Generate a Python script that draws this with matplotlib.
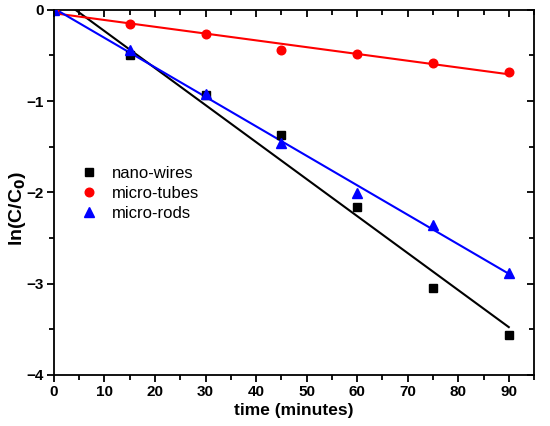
import numpy as np
from matplotlib import pyplot as plt
from matplotlib.ticker import MultipleLocator

plt.rcParams['font.family'] = ['Liberation Sans', 'DejaVu Sans']

# Data
time = [0, 15, 30, 45, 60, 75, 90]
nano_wires = [0, -0.49, -0.93, -1.374, -2.16, -3.05, -3.56]
micro_tubes = [0, -0.153, -0.266, -0.44, -0.48, -0.58, -0.685]
micro_rods = [0, -0.44, -0.92, -1.457, -2.01, -2.36, -2.88]

series = [
    ('nano-wires', nano_wires, 'black', 's', 5.4),
    ('micro-tubes', micro_tubes, 'red', 'o', 6.2),
    ('micro-rods', micro_rods, 'blue', '^', 6.8),
]

rect = [0.098, 0.12, 0.873, 0.857]
fig = plt.figure(dpi=100, figsize=(5.5, 4.26))
ax = fig.add_axes(rect)

t = np.array(time)
for name, vals, color, marker, ms in series:
    # linear fit line
    k, b = np.polyfit(t, vals, 1)
    xs = np.array([0, 90])
    ax.plot(xs, k * xs + b, color=color, lw=1.5, zorder=2)
    ax.plot(time, vals, ls='none', marker=marker, ms=ms, color=color,
            label=name, zorder=3)


def set_ticks(a):
    a.set_xlim(0, 95)
    a.set_ylim(-4, 0)
    a.xaxis.set_major_locator(MultipleLocator(10))
    a.xaxis.set_minor_locator(MultipleLocator(5))
    a.yaxis.set_major_locator(MultipleLocator(1))
    a.yaxis.set_minor_locator(MultipleLocator(0.5))


set_ticks(ax)
for s in ax.spines.values():
    s.set_linewidth(1.3)

ax.tick_params(which='both', direction='out', width=1.3)
ax.tick_params(which='major', length=5, labelsize=11, pad=2)
ax.tick_params(which='minor', length=3.5)
for lab in ax.get_xticklabels() + ax.get_yticklabels():
    lab.set_fontweight('bold')

# overlay axes for the inward ticks on top and right
ov = fig.add_axes(rect, frameon=False)
set_ticks(ov)
ov.patch.set_visible(False)
ov.xaxis.tick_top()
ov.yaxis.tick_right()
ov.tick_params(which='both', direction='in', width=1.3,
               labeltop=False, labelright=False,
               labelbottom=False, labelleft=False)
ov.tick_params(which='major', length=5)
ov.tick_params(which='minor', length=3.5)

ax.set_xlabel('time (minutes)', fontsize=12.5, fontweight='bold', labelpad=3)
ax.set_ylabel('ln(C/C$_\\mathbf{0}$)', fontsize=14, fontweight='bold')
ax.yaxis.set_label_coords(-0.054, 0.457)

ax.legend(loc='upper left', bbox_to_anchor=(0.021, 0.614), frameon=False,
          fontsize=12, handlelength=1.2, handletextpad=0.75,
          labelspacing=0.3)

fig.savefig('out.png', dpi=100)
